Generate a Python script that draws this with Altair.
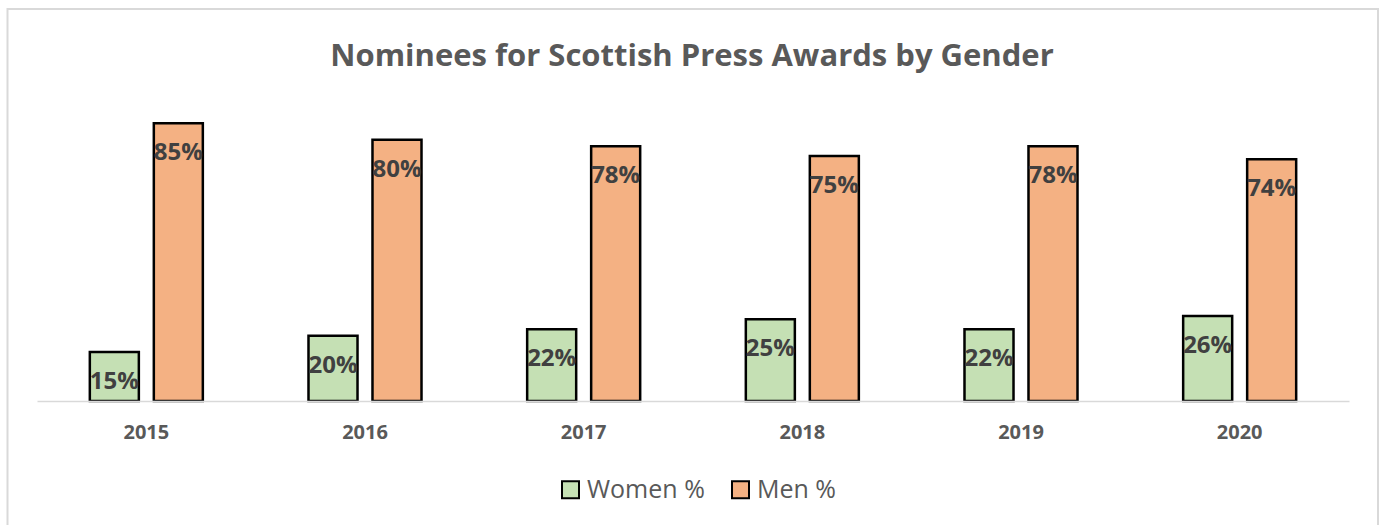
import altair as alt
import pandas as pd

years = ["2015", "2016", "2017", "2018", "2019", "2020"]
women = [15, 20, 22, 25, 22, 26]
men = [85, 80, 78, 75, 78, 74]
series = ["Women %", "Men %"]
colors = ["#C5E0B4", "#F4B183"]
title_text = ["Nominees for Scottish Press Awards by Gender"]

rows = []
for i, yr in enumerate(years):
    rows.append({"year": yr, "series": series[0], "value": women[i]})
    rows.append({"year": yr, "series": series[1], "value": men[i]})
df = pd.DataFrame(rows)
df["label"] = df["value"].astype(str) + "%"

W, H = 1312, 294
FONT = "Open Sans"

x = alt.X(
    "year:N", sort=years,
    scale=alt.Scale(paddingInner=0, paddingOuter=0),
    axis=alt.Axis(title=None, labelAngle=0, ticks=False, domainColor="#D9D9D9",
                  domainWidth=1.5, labelFont=FONT, labelFontWeight="bold",
                  labelFontSize=20, labelColor="#595959", labelPadding=21, zindex=1),
)
xo = alt.XOffset("series:N", sort=series,
                 scale=alt.Scale(paddingInner=0.234, paddingOuter=0.8255))
y = alt.Y("value:Q", scale=alt.Scale(domain=[0, 90], nice=False), axis=None)

bars = alt.Chart(df).mark_bar(stroke="black", strokeWidth=2.5).encode(
    x=x, xOffset=xo, y=y,
    color=alt.Color(
        "series:N", sort=series,
        scale=alt.Scale(domain=series, range=colors),
        legend=alt.Legend(
            title=None, orient="none", legendX=521, legendY=370,
            direction="horizontal", symbolType="square", symbolSize=289,
            symbolStrokeColor="black", symbolStrokeWidth=2, symbolOpacity=1,
            labelFont=FONT, labelFontSize=25, labelColor="#595959",
            labelOffset=4, columnPadding=23, padding=0,
        ),
    ),
)

labels = alt.Chart(df).mark_text(
    baseline="middle", dy=30, font=FONT, fontWeight="bold", fontSize=24,
    color="#404040",
).encode(x=x, xOffset=xo, y=y, text="label:N")

frame = alt.Chart(pd.DataFrame({"a": [0]})).mark_rect(
    fill="transparent", stroke="#D9D9D9", strokeWidth=2
).encode(x=alt.value(-29.5), x2=alt.value(1341), y=alt.value(-98), y2=alt.value(430))

title = alt.Chart(pd.DataFrame({"t": title_text})).mark_text(
    font=FONT, fontSize=31, fontWeight="bold", color="#595959",
    align="center", baseline="alphabetic",
).encode(x=alt.value(W / 2 - 1), y=alt.value(-41), text="t:N")

chart = alt.layer(frame, bars, labels, title).properties(
    width=W, height=H,
    autosize=alt.AutoSizeParams(type="none"),
    padding={"left": 37, "top": 107, "right": 35, "bottom": 124},
).configure_view(strokeWidth=0)

chart.save("out.html", embed_options={"renderer": "svg", "actions": False})
